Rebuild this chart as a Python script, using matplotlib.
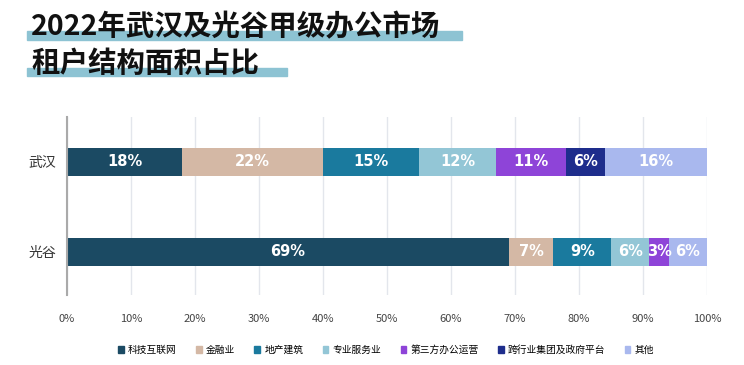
import matplotlib.pyplot as plt
import matplotlib.patches as mpatches
import numpy as np

plt.rcParams['font.family'] = ['Noto Sans CJK SC', 'DejaVu Sans']

cities = ['武汉', '光谷']
sectors = ['科技互联网', '金融业', '地产建筑', '专业服务业', '第三方办公运营', '跨行业集团及政府平台', '其他']
colors = ['#1b4a63', '#d4b8a5', '#1a7a9e', '#93c6d6', '#8e44d8', '#1e2d8c', '#a9b8ee']
wuhan = [18, 22, 15, 12, 11, 6, 16]
guanggu = [69, 7, 9, 6, 3, 0, 6]
values = np.array([wuhan, guanggu])

fig = plt.figure(figsize=(7.44, 3.65), dpi=100)
ax = fig.add_axes([67 / 744, 1 - 295 / 365, 640 / 744, 178 / 365])

y = np.arange(len(cities))
left = np.zeros(len(cities))
for i, sec in enumerate(sectors):
    w = values[:, i]
    ax.barh(y, w, left=left, height=0.31, color=colors[i], label=sec, zorder=3)
    for j in range(len(cities)):
        if w[j] > 0:
            ax.text(left[j] + w[j] / 2, y[j], f'{w[j]}%', ha='center', va='center',
                    color='white', fontsize=10.5, fontweight='bold', family='DejaVu Sans', zorder=4)
    left += w

ax.set_xlim(0, 100)
ax.set_ylim(1.48, -0.5)
ax.set_xticks(np.arange(0, 101, 10))
ax.set_xticklabels([f'{t}%' for t in range(0, 101, 10)], fontsize=8, color='#444444')
ax.set_yticks(y)
ax.set_yticklabels(cities, fontsize=10, color='#333333')
ax.tick_params(length=0, pad=14, axis='x')
ax.tick_params(length=0, pad=8, axis='y')
ax.grid(axis='x', color='#e3e6ec', linewidth=1, zorder=0)
for s in ['top', 'right', 'bottom']:
    ax.spines[s].set_visible(False)
ax.spines['left'].set_color('#aaaaaa')
ax.spines['left'].set_linewidth(1.5)
ax.spines['left'].set_zorder(5)

# title with highlight bars
hl = '#8dc3d3'
fig.patches.append(mpatches.Rectangle((27 / 744, 1 - 40 / 365), 435 / 744, 9 / 365,
                                      transform=fig.transFigure, color=hl, zorder=0))
fig.patches.append(mpatches.Rectangle((27 / 744, 1 - 76 / 365), 260 / 744, 8 / 365,
                                      transform=fig.transFigure, color=hl, zorder=0))
fig.text(31 / 744, 1 - 27 / 365, '2022年武汉及光谷甲级办公市场', fontsize=20.5, fontweight='bold',
         va='center', ha='left', color='#111111', zorder=2)
fig.text(31 / 744, 1 - 64 / 365, '租户结构面积占比', fontsize=20.5, fontweight='bold',
         va='center', ha='left', color='#111111', zorder=2)

handles = [mpatches.Patch(color=c, label=s) for c, s in zip(colors, sectors)]
fig.legend(handles=handles, loc='center', bbox_to_anchor=(386 / 744, 1 - 350 / 365), ncol=7,
           frameon=False, fontsize=7, handlelength=0.6, handleheight=0.6,
           handletextpad=0.4, columnspacing=2.0)

fig.savefig('out.png', dpi=100)
